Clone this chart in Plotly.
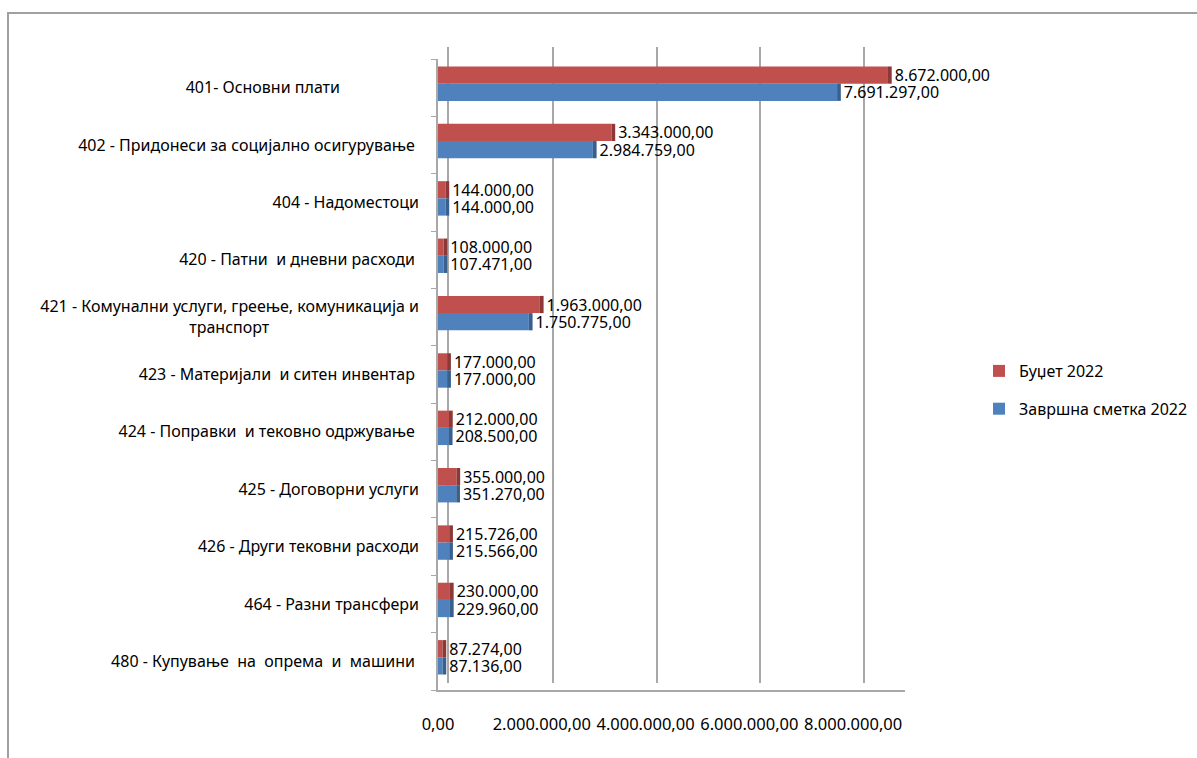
import plotly.graph_objects as go

categories = [
    "401- Основни плати",
    "402 - Придонеси за социјално осигурување",
    "404 - Надоместоци",
    "420 - Патни  и дневни расходи",
    "421 - Комунални услуги, греење, комуникација и транспорт",
    "423 - Материјали  и ситен инвентар",
    "424 - Поправки  и тековно одржување",
    "425 - Договорни услуги",
    "426 - Други тековни расходи",
    "464 - Разни трансфери",
    "480 - Купување  на  опрема  и  машини",
]
NB = "\u00a0"
tick_labels = [
    "401- Основни плати" + NB * 19,
    "402 - Придонеси за социјално осигурување" + NB,
    "404 - Надоместоци",
    "420 - Патни  и дневни расходи" + NB,
    "421 - Комунални услуги, греење, комуникација и<br>транспорт" + NB * 36,
    "423 - Материјали  и ситен инвентар" + NB,
    "424 - Поправки  и тековно одржување" + NB,
    "425 - Договорни услуги",
    "426 - Други тековни расходи",
    "464 - Разни трансфери",
    "480 - Купување  на  опрема  и  машини" + NB,
]
budget_2022 = [8672000, 3343000, 144000, 108000, 1963000, 177000, 212000, 355000, 215726, 230000, 87274]
final_2022 = [7691297, 2984759, 144000, 107471, 1750775, 177000, 208500, 351270, 215566, 229960, 87136]
series_names = ["Буџет 2022", "Завршна сметка 2022"]
tick_values = [0, 2000000, 4000000, 6000000, 8000000]

RED, RED_D = "#C0504D", "#8C3836"
BLUE, BLUE_D = "#4F81BD", "#37608F"
FONT = "Noto Sans"
XMAX = 9000000
CAP = XMAX * 0.008


def fmt(v):
    s = f"{v:,.2f}"
    return s.replace(",", "X").replace(".", ",").replace("X", ".")


fig = go.Figure()

# dummy trace for back wall subplot
fig.add_trace(go.Scatter(x=[None], y=[None], xaxis="x", yaxis="y",
                         showlegend=False, hoverinfo="skip"))

for vals, name, col, dcol, off in [
    (budget_2022, series_names[0], RED, RED_D, -0.37),
    (final_2022, series_names[1], BLUE, BLUE_D, -0.07),
]:
    fig.add_trace(go.Bar(
        y=categories, x=vals, orientation="h", name=name,
        marker=dict(color=col, line=dict(width=0)),
        width=0.3, offset=off, xaxis="x2", yaxis="y2",
        legendgroup=name,
    ))
    fig.add_trace(go.Bar(
        y=categories, x=[CAP] * len(vals), base=vals, orientation="h",
        marker=dict(color=dcol, line=dict(width=0)),
        width=0.3, offset=off, xaxis="x2", yaxis="y2",
        text=[fmt(v) for v in vals], textposition="outside",
        constraintext="none",
        textfont=dict(family=FONT, size=16, color="black"),
        cliponaxis=False, showlegend=False, legendgroup=name,
    ))

L, R, T, B = 438, 281, 47, 68
W = 1197 - L - R
H = 758 - T - B

fig.update_layout(
    width=1197, height=758,
    margin=dict(l=L, r=R, t=T, b=B, pad=0, autoexpand=False),
    paper_bgcolor="white", plot_bgcolor="rgba(0,0,0,0)",
    barmode="overlay",
    separators=",.",
    font=dict(family=FONT, size=16, color="black"),
    # back wall
    xaxis=dict(domain=[11 / W, 1], anchor="y", range=[0, XMAX],
               tickvals=tick_values, showticklabels=False, showgrid=True,
               gridcolor="#A8A8A8", gridwidth=1.5, zeroline=False, showline=False,
               automargin=False),
    yaxis=dict(domain=[7 / H, 1], anchor="x", range=[0, 1],
               showticklabels=False, showgrid=False, zeroline=False,
               showline=True, linecolor="#A8A8A8", linewidth=1.5, automargin=False),
    # front
    xaxis2=dict(domain=[0, 467 / W], anchor="y2", range=[0, XMAX],
                tickvals=tick_values, tickformat=",.2f", showgrid=False,
                zeroline=False, showline=True, linecolor="#A8A8A8", linewidth=1.5,
                ticks="", ticklabelstandoff=18, tickangle=0, automargin=False,
                tickfont=dict(family=FONT, size=16.5)),
    yaxis2=dict(domain=[0, 631 / H], anchor="x2", type="category",
                categoryorder="array", categoryarray=categories,
                tickvals=categories, ticktext=tick_labels,
                autorange="reversed", showgrid=False, zeroline=False,
                showline=True, linecolor="#A8A8A8", linewidth=1.5,
                ticks="outside", tickson="boundaries", ticklen=5,
                tickcolor="#A8A8A8", ticklabelstandoff=14, automargin=False,
                tickfont=dict(family=FONT, size=16)),
    legend=dict(x=(979 - L) / W, y=(690 - 390) / H, xanchor="left", yanchor="middle",
                traceorder="grouped", tracegroupgap=14,
                font=dict(family=FONT, size=16), bgcolor="rgba(0,0,0,0)"),
    shapes=[dict(type="rect", xref="paper", yref="paper",
                 x0=(8 - L) / W, x1=(1205 - L) / W,
                 y0=(690 - 770) / H, y1=(690 - 13) / H,
                 line=dict(color="#A0A0A0", width=2), layer="below")],
)

fig.write_html("out.html", config={"displayModeBar": False},
               post_script="document.body.style.margin='0';")
